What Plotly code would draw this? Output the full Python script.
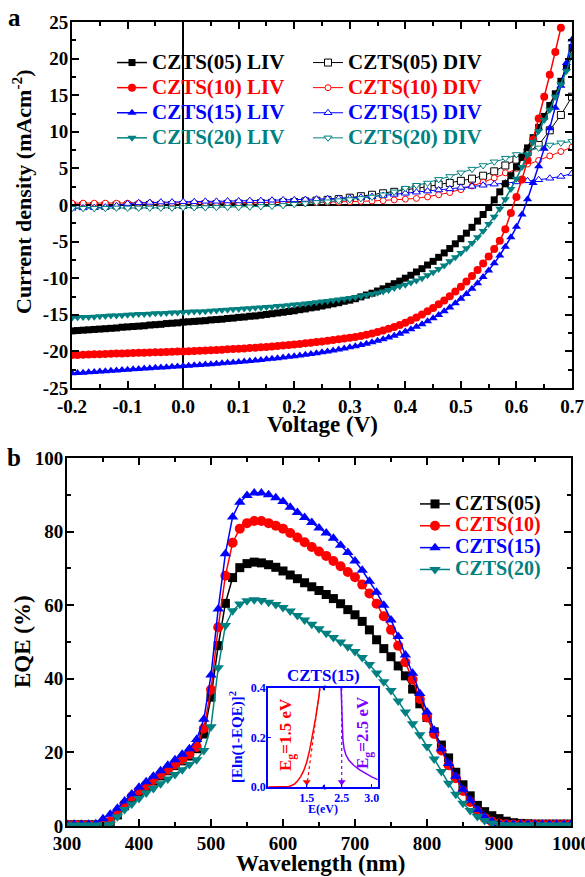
import numpy as np
import plotly.graph_objects as go

# ---------------- data: panel a (J-V) ----------------
V_LIGHT = np.round(np.arange(-20, 71) / 100, 2)   # -0.20 ... 0.70 V, 0.01 V grid
V_DARK = np.round(np.arange(-20, 71, 2) / 100, 2)  # -0.20 ... 0.70 V, 0.02 V grid

J05_LIV = [-17.2, -17.15, -17.1, -17.05, -17.0, -16.95, -16.9, -16.85, -16.8, -16.7,
           -16.65, -16.6, -16.55, -16.5, -16.4, -16.35, -16.3, -16.2, -16.15, -16.1,
           -16.0, -15.95, -15.9, -15.85, -15.8, -15.7, -15.65, -15.6, -15.5, -15.45,
           -15.35, -15.3, -15.2, -15.15, -15.05, -14.95, -14.85, -14.75, -14.65, -14.55,
           -14.45, -14.3, -14.2, -14.05, -13.95, -13.8, -13.65, -13.5, -13.35, -13.15,
           -13.0, -12.8, -12.55, -12.3, -12.05, -11.75, -11.45, -11.1, -10.75, -10.4,
           -10.0, -9.6, -9.15, -8.7, -8.2, -7.7, -7.15, -6.55, -5.95, -5.3,
           -4.6, -3.85, -3.05, -2.2, -1.3, -0.35, 0.7, 1.8, 2.9, 4.0,
           5.2, 6.5, 7.8, 9.2, 10.6, 12.1, 13.6, 15.2, 16.9, 18.8, 21.5]
J10_LIV = [-20.5, -20.48, -20.45, -20.43, -20.4, -20.38, -20.35, -20.33, -20.3, -20.28,
           -20.25, -20.23, -20.2, -20.18, -20.15, -20.13, -20.1, -20.08, -20.05, -20.03,
           -20.0, -19.97, -19.94, -19.9, -19.87, -19.83, -19.8, -19.76, -19.72, -19.68,
           -19.65, -19.6, -19.55, -19.5, -19.45, -19.4, -19.33, -19.27, -19.2, -19.13,
           -19.05, -18.98, -18.9, -18.82, -18.73, -18.64, -18.55, -18.45, -18.35, -18.25,
           -18.15, -18.02, -17.88, -17.72, -17.55, -17.36, -17.15, -16.92, -16.66, -16.38,
           -16.07, -15.73, -15.36, -14.96, -14.53, -14.07, -13.57, -13.03, -12.45, -11.83,
           -11.17, -10.46, -9.7, -8.88, -8.0, -7.05, -6.0, -4.9, -3.3, -1.1,
           1.1, 3.5, 6.1, 8.9, 11.8, 14.8, 17.8, 20.9, 24.2, None, None]
J15_LIV = [-23.0, -22.95, -22.9, -22.85, -22.8, -22.75, -22.7, -22.65, -22.6, -22.55,
           -22.5, -22.45, -22.4, -22.35, -22.3, -22.25, -22.2, -22.15, -22.1, -22.05,
           -22.0, -21.95, -21.9, -21.85, -21.8, -21.74, -21.68, -21.62, -21.56, -21.5,
           -21.44, -21.37, -21.3, -21.23, -21.16, -21.08, -21.0, -20.92, -20.83, -20.74,
           -20.65, -20.55, -20.45, -20.35, -20.24, -20.12, -20.0, -19.87, -19.74, -19.6,
           -19.45, -19.29, -19.12, -18.94, -18.75, -18.55, -18.33, -18.1, -17.85, -17.58,
           -17.29, -16.98, -16.64, -16.28, -15.89, -15.47, -15.02, -14.53, -14.0, -13.43,
           -12.82, -12.16, -11.45, -10.68, -9.85, -8.95, -7.97, -6.9, -5.72, -4.42,
           -2.98, -1.3, 0.8, 3.0, 5.3, 7.7, 10.5, 13.3, 16.3, 19.4, 22.6]
J20_LIV = [-15.4, -15.35, -15.3, -15.3, -15.25, -15.2, -15.15, -15.1, -15.1, -15.05,
           -15.0, -14.95, -14.9, -14.9, -14.85, -14.8, -14.8, -14.75, -14.7, -14.7,
           -14.65, -14.6, -14.55, -14.55, -14.5, -14.45, -14.4, -14.35, -14.3, -14.25,
           -14.2, -14.15, -14.1, -14.05, -14.0, -13.95, -13.9, -13.8, -13.75, -13.7,
           -13.6, -13.55, -13.45, -13.4, -13.3, -13.2, -13.1, -13.0, -12.9, -12.8,
           -12.7, -12.6, -12.45, -12.3, -12.15, -12.0, -11.8, -11.6, -11.35, -11.1,
           -10.9, -10.6, -10.3, -10.0, -9.6, -9.2, -8.75, -8.25, -7.7, -7.15,
           -6.55, -5.9, -5.2, -4.4, -3.55, -2.6, -1.6, -0.5, 0.8, 2.2,
           3.6, 5.2, 6.9, 8.6, 10.1, 11.6, 13.0, 14.8, 16.5, 18.3, 20.5]

J05_DIV = [-0.1, -0.1, -0.1, -0.1, -0.05, -0.05, -0.05, 0.0, 0.0, 0.0,
           0.0, 0.05, 0.1, 0.1, 0.15, 0.2, 0.2, 0.25, 0.3, 0.35,
           0.4, 0.5, 0.6, 0.7, 0.8, 1.0, 1.2, 1.4, 1.6, 1.8,
           2.0, 2.3, 2.5, 2.8, 3.0, 3.3, 3.6, 4.0, 4.6, 5.4,
           6.2, 7.2, 8.2, 10.2, 12.3, 14.8]
J10_DIV = [0.25, 0.25, 0.25, 0.25, 0.25, 0.25, 0.25, 0.25, 0.25, 0.25,
           0.25, 0.25, 0.3, 0.3, 0.3, 0.3, 0.3, 0.3, 0.3, 0.3,
           0.3, 0.35, 0.35, 0.4, 0.4, 0.45, 0.5, 0.55, 0.6, 0.7,
           0.8, 0.9, 1.1, 1.4, 1.7, 2.1, 2.6, 3.1, 3.7, 4.4,
           5.0, 5.6, 6.1, 6.7, 7.3, 7.9]
J15_DIV = [-0.45, -0.4, -0.35, -0.3, -0.1, 0.2, 0.3, 0.35, 0.4, 0.4,
           0.45, 0.45, 0.5, 0.5, 0.55, 0.55, 0.6, 0.6, 0.65, 0.7,
           0.7, 0.75, 0.8, 0.85, 0.9, 0.95, 1.05, 1.15, 1.3, 1.45,
           1.6, 1.75, 1.9, 2.05, 2.2, 2.4, 2.55, 2.7, 2.85, 3.0,
           3.15, 3.3, 3.45, 3.65, 3.9, 4.3]
J20_DIV = [-0.45, -0.45, -0.45, -0.45, -0.4, -0.4, -0.4, -0.4, -0.4, -0.4,
           -0.35, -0.35, -0.35, -0.3, -0.3, -0.3, -0.25, -0.2, -0.15, -0.05,
           0.1, 0.2, 0.35, 0.45, 0.6, 0.75, 0.9, 1.1, 1.4, 1.8,
           2.3, 2.7, 3.0, 3.5, 3.9, 4.4, 4.9, 5.4, 5.9, 6.4,
           6.9, 7.4, 7.8, 8.2, 8.5, 8.7]

# tick labels (hyphen-minus as in the original figure)
V_TICKS = [-0.2, -0.1, 0.0, 0.1, 0.2, 0.3, 0.4, 0.5, 0.6, 0.7]
V_TICKTEXT = ["-0.2", "-0.1", "0.0", "0.1", "0.2", "0.3", "0.4", "0.5", "0.6", "0.7"]
J_TICKS = [-25, -20, -15, -10, -5, 0, 5, 10, 15, 20, 25]
J_TICKTEXT = ["-25", "-20", "-15", "-10", "-5", "0", "5", "10", "15", "20", "25"]

# ---------------- data: panel b (EQE) ----------------
WL = np.arange(300, 1001, 10)  # nm
EQE05 = [0.3, 0.3, 0.3, 0.3, 0.3, 0.5, 1.0, 3.0, 5.5, 7.5,
         9.2, 10.8, 12.2, 13.6, 15.0, 16.4, 17.7, 19.0, 21.0, 25.0,
         35.0, 49.0, 60.5, 67.5, 70.2, 71.3, 71.7, 71.5, 71.0, 70.3,
         69.3, 68.2, 67.2, 66.1, 65.0, 64.0, 62.9, 61.8, 60.4, 58.8,
         57.4, 55.6, 53.3, 50.6, 48.2, 46.0, 43.5, 40.8, 37.2, 33.2,
         29.5, 25.6, 22.0, 18.5, 14.6, 11.2, 8.2, 5.6, 3.9, 2.8,
         2.0, 1.3, 0.9, 0.7, 0.6, 0.5, 0.5, 0.5, 0.5, 0.5, 0.5]
EQE10 = [0.3, 0.3, 0.3, 0.3, 0.3, 0.5, 1.2, 3.5, 6.0, 8.0,
         9.6, 11.0, 12.5, 14.0, 15.3, 16.7, 18.0, 19.5, 21.5, 26.5,
         37.0, 54.0, 68.0, 77.0, 80.8, 82.3, 82.9, 82.9, 82.3, 81.6,
         80.8, 79.6, 78.4, 77.1, 75.8, 74.6, 73.4, 72.0, 70.6, 69.0,
         67.6, 65.6, 63.2, 60.4, 57.0, 53.3, 49.0, 44.5, 39.8, 34.5,
         29.5, 25.0, 20.5, 16.5, 13.0, 9.5, 6.5, 4.0, 2.2, 1.2,
         0.7, 0.5, 0.4, 0.4, 0.4, 0.4, 0.4, 0.4, 0.4, 0.4, 0.4]
EQE15 = [0.5, 0.5, 0.5, 0.5, 0.6, 2.0, 3.2, 4.8, 6.8, 8.7,
         10.5, 12.0, 13.5, 15.0, 16.5, 18.0, 19.5, 21.0, 23.5, 29.0,
         41.0, 59.0, 74.0, 84.0, 88.0, 89.8, 90.5, 90.5, 90.0, 89.2,
         88.2, 86.6, 85.2, 83.8, 82.5, 81.0, 79.6, 78.2, 76.3, 74.3,
         72.0, 69.5, 66.5, 63.5, 60.0, 56.0, 51.5, 46.5, 41.5, 36.0,
         31.0, 26.0, 21.0, 17.0, 13.5, 10.0, 7.0, 4.5, 2.5, 1.3,
         0.7, 0.5, 0.5, 0.5, 0.5, 0.5, 0.5, 0.5, 0.5, 0.5, 0.5]
EQE20 = [0.3, 0.3, 0.3, 0.3, 0.3, 0.3, 0.5, 2.5, 4.5, 6.0,
         7.5, 9.0, 10.2, 11.5, 12.8, 14.0, 15.3, 16.7, 18.0, 20.5,
         27.0, 43.0, 54.5, 58.5, 60.3, 61.2, 61.5, 61.3, 60.8, 60.2,
         59.4, 58.4, 57.2, 56.0, 54.8, 53.6, 52.4, 51.2, 50.0, 48.7,
         47.4, 45.8, 43.9, 41.6, 39.2, 36.8, 34.0, 31.0, 27.8, 24.8,
         21.6, 18.2, 14.8, 11.6, 8.6, 6.2, 4.2, 2.6, 1.5, 0.8,
         0.4, 0.3, 0.3, 0.3, 0.3, 0.3, 0.3, 0.3, 0.3, 0.3, 0.3]

# ---------------- data: inset (CZTS(15) band gap) ----------------
E_LOW = [0.86, 0.95, 1.05, 1.15, 1.20, 1.25, 1.30, 1.35, 1.40, 1.45, 1.50, 1.55, 1.60, 1.65, 1.70, 1.72]
Y_LOW = [0.0, 0.0, 0.0, 0.0, 0.002, 0.006, 0.013, 0.025, 0.042, 0.066, 0.10, 0.15, 0.21, 0.28, 0.36, 0.40]
E_LOW_FIT = [1.50, 1.72]
Y_LOW_FIT = [0.0, 0.40]
E_HIGH = [2.49, 2.495, 2.50, 2.51, 2.52, 2.54, 2.57, 2.62, 2.70, 2.80, 2.90, 3.00, 3.10]
Y_HIGH = [0.40, 0.34, 0.29, 0.23, 0.19, 0.155, 0.13, 0.108, 0.088, 0.069, 0.054, 0.041, 0.03]
E_HIGH_FIT = [2.50, 2.50]
Y_HIGH_FIT = [0.40, 0.0]
EG_VALUES = [1.5, 2.5]
BREAK_E = 1.805

BLACK, RED, BLUE, TEAL, PURPLE = "#000000", "#FF0000", "#0000FF", "#008080", "#8000FF"
FONT = "Liberation Serif"
W, H = 585, 877


def px(x):
    return x / W


def py(y):
    return 1 - y / H


def legname(text, color, size):
    return f"<span style='color:{color};font-size:{size}px'><b>{text}</b></span>"


fig = go.Figure()

light = [("CZTS(05) LIV", J05_LIV, BLACK, "square", 7),
         ("CZTS(10) LIV", J10_LIV, RED, "circle", 8),
         ("CZTS(15) LIV", J15_LIV, BLUE, "triangle-up", 8),
         ("CZTS(20) LIV", J20_LIV, TEAL, "triangle-down", 8)]
dark = [("CZTS(05) DIV", J05_DIV, BLACK, "square", 7),
        ("CZTS(10) DIV", J10_DIV, RED, "circle", 6),
        ("CZTS(15) DIV", J15_DIV, BLUE, "triangle-up", 7),
        ("CZTS(20) DIV", J20_DIV, TEAL, "triangle-down", 7)]

for name, y, c, sym, sz in dark:
    fig.add_trace(go.Scatter(
        x=V_DARK, y=y, mode="lines+markers", xaxis="x", yaxis="y", legend="legend2",
        name=legname(name, c, 21),
        line=dict(color=c, width=1),
        marker=dict(symbol=sym, size=sz, color="white", line=dict(color=c, width=1))))

for name, y, c, sym, sz in light:
    fig.add_trace(go.Scatter(
        x=V_LIGHT, y=y, mode="lines+markers", xaxis="x", yaxis="y", legend="legend",
        name=legname(name, c, 21),
        line=dict(color=c, width=1.5),
        marker=dict(symbol=sym, size=sz, color=c, line=dict(width=0))))

eqe = [("CZTS(05)", EQE05, BLACK, "square", 9),
       ("CZTS(10)", EQE10, RED, "circle", 10),
       ("CZTS(15)", EQE15, BLUE, "triangle-up", 10),
       ("CZTS(20)", EQE20, TEAL, "triangle-down", 10)]
for name, y, c, sym, sz in eqe:
    fig.add_trace(go.Scatter(
        x=WL, y=y, mode="lines+markers", xaxis="x2", yaxis="y2", legend="legend3",
        name=legname(name, c, 20),
        line=dict(color=c, width=1.5),
        marker=dict(symbol=sym, size=sz, color=c, line=dict(width=0))))

# inset traces
fig.add_trace(go.Scatter(x=E_LOW, y=Y_LOW, mode="lines", xaxis="x3", yaxis="y3",
                         line=dict(color=RED, width=1.5), showlegend=False))
fig.add_trace(go.Scatter(x=E_LOW_FIT, y=Y_LOW_FIT, mode="lines", xaxis="x3", yaxis="y3",
                         line=dict(color=RED, width=1.2, dash="dot"), showlegend=False))
fig.add_trace(go.Scatter(x=[EG_VALUES[0]], y=[0.02], mode="markers", xaxis="x3", yaxis="y3",
                         marker=dict(symbol="triangle-down", size=7, color=RED), showlegend=False))
fig.add_trace(go.Scatter(x=E_HIGH, y=Y_HIGH, mode="lines", xaxis="x4", yaxis="y4",
                         line=dict(color=PURPLE, width=1.5), showlegend=False))
fig.add_trace(go.Scatter(x=E_HIGH_FIT, y=Y_HIGH_FIT, mode="lines", xaxis="x4", yaxis="y4",
                         line=dict(color=PURPLE, width=1.2, dash="dot"), showlegend=False))
fig.add_trace(go.Scatter(x=[EG_VALUES[1]], y=[0.02], mode="markers", xaxis="x4", yaxis="y4",
                         marker=dict(symbol="triangle-down", size=7, color=PURPLE), showlegend=False))
fig.add_trace(go.Scatter(x=[BREAK_E, BREAK_E], y=[0.0, 0.4], mode="markers", xaxis="x3", yaxis="y3",
                         cliponaxis=False, marker=dict(size=5, color=BLUE), showlegend=False))

tickfont = dict(family=FONT, size=19, color="black", weight="bold")
common = dict(showline=True, linewidth=2, linecolor="black", mirror="allticks",
              ticks="inside", ticklen=7, tickwidth=1.5, tickcolor="black",
              showgrid=False, tickfont=tickfont, automargin=False, ticklabeloverflow="allow")
minor_t = dict(ticks="inside", ticklen=4, tickwidth=1.5, tickcolor="black", tickmode="linear")
inset_font = dict(family=FONT, size=12, color=BLUE, weight="bold")

fig.update_layout(
    width=W, height=H, margin=dict(l=0, r=0, t=0, b=0),
    paper_bgcolor="white", plot_bgcolor="white",
    xaxis=dict(domain=[px(72), px(572)], range=[-0.2, 0.7], anchor="y",
               tickmode="array", tickvals=V_TICKS, ticktext=V_TICKTEXT, ticklabelstandoff=0,
               zeroline=True, zerolinecolor="black", zerolinewidth=1.5,
               minor=dict(tick0=-0.2, dtick=0.05, **minor_t), **common),
    yaxis=dict(domain=[py(388), py(22)], range=[-25, 25], anchor="x",
               tickmode="array", tickvals=J_TICKS, ticktext=J_TICKTEXT, ticklabelstandoff=-2,
               zeroline=True, zerolinecolor="black", zerolinewidth=1.5,
               minor=dict(tick0=-25, dtick=2.5, **minor_t), **common),
    xaxis2=dict(domain=[px(67), px(571)], range=[300, 1000], anchor="y2",
                tick0=300, dtick=100, zeroline=False, ticklabelstandoff=-1,
                minor=dict(tick0=300, dtick=50, **minor_t), **common),
    yaxis2=dict(domain=[py(826), py(458)], range=[0, 100], anchor="x2",
                tick0=0, dtick=20, zeroline=False, ticklabelstandoff=-2,
                minor=dict(tick0=0, dtick=10, **minor_t), **common),
    xaxis3=dict(domain=[px(268), px(325)], range=[0.855, BREAK_E], anchor="y3",
                showline=True, linewidth=1.5, linecolor=BLUE, mirror=True,
                tickvals=[1.5], tickformat=".1f", ticks="inside", ticklen=3, tickcolor=BLUE,
                tickfont=inset_font, ticklabelstandoff=-1,
                showgrid=False, zeroline=False, automargin=False),
    yaxis3=dict(domain=[py(787), py(688)], range=[0, 0.4], anchor="x3",
                showline=True, linewidth=1.5, linecolor=BLUE,
                tickvals=[0, 0.2, 0.4], tickformat=".1f", ticks="inside", ticklen=3, tickcolor=BLUE,
                tickfont=inset_font, ticklabelstandoff=-2,
                showgrid=False, zeroline=False, automargin=False),
    xaxis4=dict(domain=[px(325), px(378)], range=[2.222, 3.105], anchor="y4",
                showline=True, linewidth=1.5, linecolor=BLUE, mirror=True,
                tickvals=[2.5, 3.0], tickformat=".1f", ticks="inside", ticklen=3, tickcolor=BLUE,
                tickfont=inset_font, ticklabelstandoff=-1,
                showgrid=False, zeroline=False, automargin=False),
    yaxis4=dict(domain=[py(787), py(688)], range=[0, 0.4], anchor="x4", side="right",
                showline=True, linewidth=1.5, linecolor=BLUE, showticklabels=False, ticks="",
                showgrid=False, zeroline=False, automargin=False),
    legend=dict(x=px(112), y=py(45), xanchor="left", yanchor="top", bgcolor="rgba(0,0,0,0)",
                font=dict(family=FONT, size=17, weight="bold"), traceorder="normal"),
    legend2=dict(x=px(308), y=py(45), xanchor="left", yanchor="top", bgcolor="rgba(0,0,0,0)",
                 font=dict(family=FONT, size=17, weight="bold"), traceorder="normal"),
    legend3=dict(x=px(415), y=py(488), xanchor="left", yanchor="top", bgcolor="rgba(0,0,0,0)",
                 font=dict(family=FONT, size=14.5, weight="bold"), traceorder="normal"),
)


def ann(text, x, y, size, color="black", angle=0, xanchor="center", yanchor="middle"):
    fig.add_annotation(text=text, x=px(x), y=py(y), xref="paper", yref="paper",
                       showarrow=False, textangle=angle, xanchor=xanchor, yanchor=yanchor,
                       font=dict(family=FONT, size=size, color=color, weight="bold"))


ann("<b>a</b>", 14, 18, 25)
ann("<b>b</b>", 14, 457, 25)
ann("<b>Voltage (V)</b>", 322, 425, 23)
ann("<b>Current density (mAcm<sup>-2</sup>)</b>", 22, 192, 22, angle=-90)
ann("<b>Wavelength (nm)</b>", 320, 863, 23)
ann("<b>EQE (%)</b>", 22, 642, 23, angle=-90)
ann("<b>CZTS(15)</b>", 323, 675, 17, color=BLUE)
ann("<b>E(eV)</b>", 323, 809, 12, color=BLUE)
ann("<b>[Eln(1-EQE)]<sup>2</sup></b>", 236, 737, 15, color=BLUE, angle=-90)
ann("<b>E<sub>g</sub>=1.5 eV</b>", 287, 735, 17, color=RED, angle=-90)
ann("<b>E<sub>g</sub>=2.5 eV</b>", 364, 733, 17, color=PURPLE, angle=-90)

fig.write_html("out.html", config={"displayModeBar": False},
               post_script="document.body.style.margin='0px';")
